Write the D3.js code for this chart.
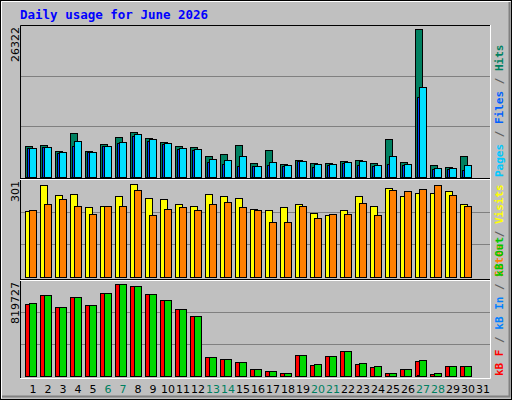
<!DOCTYPE html>
<html>
<head>
<meta charset="utf-8">
<script src="https://cdn.jsdelivr.net/npm/d3@7"></script>
<style>
  body { margin: 0; background: #fff; }
  svg { display: block; }
</style>
</head>
<body>
<svg width="512" height="400"></svg>
<script>
'use strict'
const days = d3.range(1, 32)
const weekends = [6, 7, 13, 14, 20, 21, 27, 28]

const hits = [5598, 5776, 4705, 7920, 4705, 5955, 7206, 8099, 7027, 6312, 5598, 5419, 3811, 4169, 5776,
  2561, 4883, 2382, 3097, 2561, 2561, 2918, 3097, 2561, 6848, 2739, 26322, 2203, 1846, 3811]
const files = [5240, 5419, 4347, 5598, 4526, 5598, 6134, 7384, 6491, 5955, 5062, 4883, 2739, 2382, 2025,
  2025, 2203, 2025, 2918, 1846, 2203, 2561, 2203, 2025, 2382, 2203, 14173, 1489, 1489, 1310]
const pages = [5240, 5419, 4526, 6491, 4526, 5598, 6312, 7742, 6848, 6134, 5240, 5062, 3275, 3097, 3811,
  2025, 2739, 2203, 2918, 2382, 2382, 2739, 2918, 2203, 3811, 2382, 15959, 1667, 1667, 2203]

const visits = [213, 298, 265, 268, 226, 232, 262, 301, 255, 252, 236, 232, 268, 262, 258,
  222, 216, 226, 236, 209, 200, 219, 262, 229, 288, 262, 272, 272, 278, 236]
const sites = [216, 236, 252, 229, 206, 229, 232, 281, 200, 222, 226, 216, 236, 245, 226,
  219, 177, 177, 229, 193, 206, 206, 239, 200, 281, 278, 285, 298, 265, 232]

const kbF = [640220, 721000, 613300, 703050, 631250, 738950, 819727, 801780, 729970, 676120, 595350, 532520, 173520, 155570, 128640,
  65820, 47870, 29920, 191470, 101720, 182490, 227370, 110690, 83770, 29920, 65820, 137620, 20940, 92740, 92740]
const kbIn = [0, 0, 0, 0, 0, 0, 0, 0, 0, 0, 0, 0, 0, 0, 0,
  0, 0, 0, 0, 0, 0, 0, 0, 0, 0, 0, 9000, 0, 0, 0]
const kbOut = [649199, 721000, 613300, 703050, 631250, 738950, 819727, 801780, 729970, 676120, 595350, 532520, 173520, 155570, 128640,
  65820, 47870, 29920, 191470, 110690, 182490, 227370, 119670, 92740, 29920, 65820, 146590, 29920, 92740, 92740]

const svg = d3.select('svg')
const mono = 'DejaVu Sans Mono, Liberation Mono, monospace'

// outer bevel
svg.append('rect').attr('x', 0).attr('y', 0).attr('width', 512).attr('height', 400).attr('fill', '#c0c0c0')
svg.append('rect').attr('x', 0.5).attr('y', 0.5).attr('width', 511).attr('height', 399).attr('fill', 'none').attr('stroke', '#000')
svg.append('path').attr('d', 'M1.5,398.5V1.5H510.5').attr('fill', 'none').attr('stroke', '#fff')
svg.append('path').attr('d', 'M2,396.5H509.5V2').attr('fill', 'none').attr('stroke', '#808080').attr('stroke-width', 2)

svg.append('text').attr('x', 20).attr('y', 19).attr('fill', '#0000ff')
  .attr('font-family', mono).attr('font-weight', 'bold').attr('font-size', 12.5)
  .text('Daily usage for June 2026')

const x = d3.scaleBand().domain(days).range([20, 485]).paddingInner(0).paddingOuter(0)
const x0 = d => 25 + (d - 1) * 15

// plot frame
const L = 20, R = 490
svg.append('path').attr('d', `M${L + 0.5},378V25.5H${R}`).attr('fill', 'none').attr('stroke', '#000')
svg.append('path').attr('d', `M${R + 0.5},25V378.5H${L}`).attr('fill', 'none').attr('stroke', '#fff')

const panels = [
  { top: 25, base: 177, maxTop: 29.3, max: 26322, label: '26322',
    series: [[hits, '#008060', 0, 7], [files, '#0040ff', 2, 7], [pages, '#00e0ff', 4, 7]],
    legend: [['Pages', '#00c8ff'], ['Files', '#0060ff'], ['Hits', '#008060']] },
  { top: 179, base: 277, maxTop: 184.3, max: 301, label: '301',
    series: [[visits, '#ffff00', 0, 7], [sites, '#ff8000', 4, 7]],
    legend: [['Sites', '#ff8000'], ['Visits', '#ffff00']] },
  { top: 280, base: 376, maxTop: 284.3, max: 819727, label: '819727',
    series: [[kbF, '#ff0000', 0, 7], [kbIn, '#0080ff', 2, 7], [kbOut, '#00d800', 4, 7]],
    legend: [['kB F', '#ff0000'], ['kB In', '#0080ff'], ['kB Out', '#00c800']] }
]

panels.forEach((p, pi) => {
  if (pi > 0) {
    svg.append('line').attr('x1', L).attr('x2', R).attr('y1', p.top - 0.5).attr('y2', p.top - 0.5).attr('stroke', '#000')
    svg.append('line').attr('x1', L).attr('x2', R).attr('y1', p.top + 0.5).attr('y2', p.top + 0.5).attr('stroke', '#fff')
  }
  const y = d3.scaleLinear().domain([0, p.max]).range([p.base, p.maxTop])
  const h = p.base - p.top
  ;[1, 2].forEach(k => {
    const gy = Math.round(p.base - h * k / 3) + 0.5
    svg.append('line').attr('x1', L + 1).attr('x2', R).attr('y1', gy).attr('y2', gy).attr('stroke', '#808080')
  })
  p.series.forEach(([vals, col, off, w]) => {
    svg.append('g').selectAll('rect').data(vals.map((v, i) => ({ d: i + 1, v })).filter(o => o.v > 0))
      .enter().append('rect')
      .attr('x', o => x0(o.d) + off + 0.5)
      .attr('y', o => Math.round(y(o.v)) + 0.5)
      .attr('width', w)
      .attr('height', o => Math.max(1, Math.round(p.base - y(o.v))))
      .attr('fill', col).attr('stroke', '#000')
  })
  svg.append('text').attr('transform', `translate(19,${p.top + 2}) rotate(-90)`)
    .attr('text-anchor', 'end').attr('font-family', 'DejaVu Sans, sans-serif').attr('font-size', 11)
    .attr('fill', '#000').text(p.label)
  const t = svg.append('text').attr('transform', `translate(503,${p.base}) rotate(-90)`)
    .attr('font-family', mono).attr('font-weight', 'bold').attr('font-size', 11)
  p.legend.forEach(([name, col], i) => {
    if (i > 0) t.append('tspan').attr('fill', '#606060').text(' / ')
    t.append('tspan').attr('fill', col).text(name)
  })
})

svg.append('g').selectAll('text').data(days).enter().append('text')
  .attr('x', d => x0(d) + 8).attr('y', 393)
  .attr('text-anchor', 'middle').attr('font-family', 'DejaVu Sans, sans-serif').attr('font-size', 11)
  .attr('fill', d => weekends.includes(d) ? '#008060' : '#000')
  .text(d => d)
</script>
</body>
</html>
